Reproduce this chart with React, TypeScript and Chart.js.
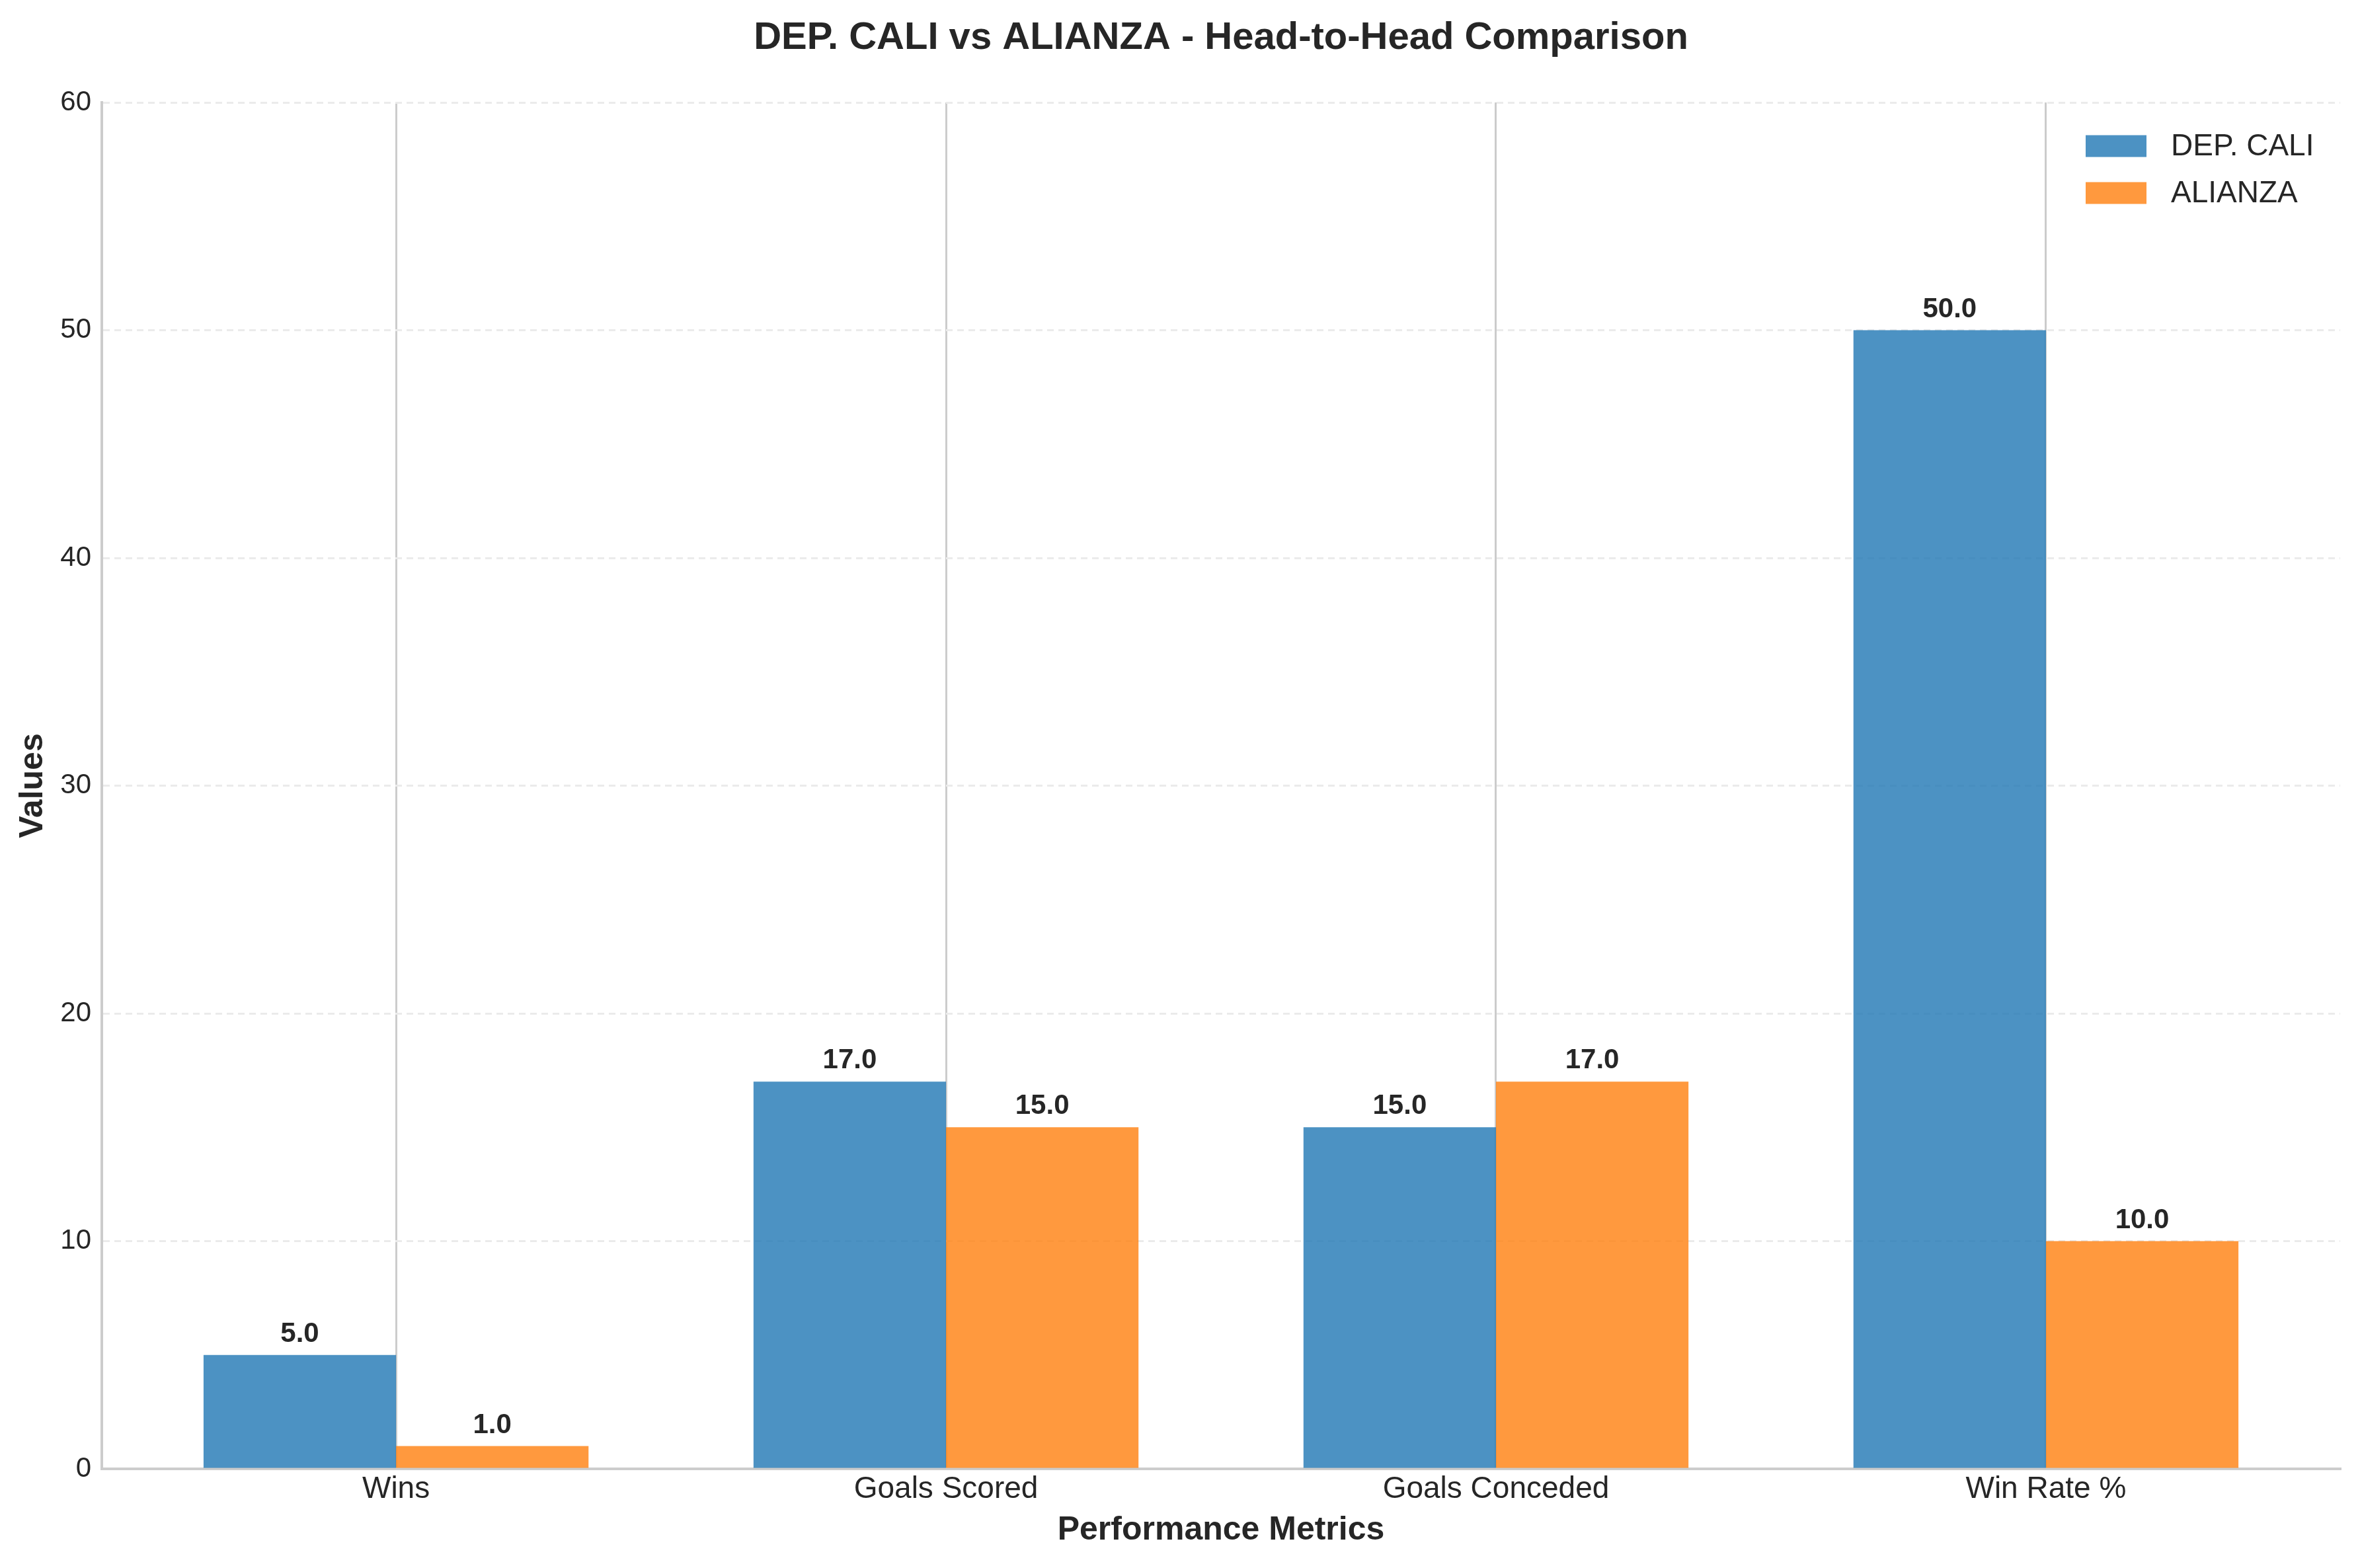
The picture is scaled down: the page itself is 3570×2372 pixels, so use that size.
import React, { useEffect, useRef } from 'react';
import { Chart, registerables } from 'chart.js';

Chart.register(...registerables);

// ---- Data ----
const categories = ['Wins', 'Goals Scored', 'Goals Conceded', 'Win Rate %'];
const seriesNames = ['DEP. CALI', 'ALIANZA'];
const depCaliValues = [5, 17, 15, 50];
const alianzaValues = [1, 15, 17, 10];
const yTickValues = [0, 10, 20, 30, 40, 50, 60];
const titleText = 'DEP. CALI vs ALIANZA - Head-to-Head Comparison';
const xAxisTitle = 'Performance Metrics';
const yAxisTitle = 'Values';

// ---- Styles ----
const FONT = '"Liberation Sans", Arial, Helvetica, sans-serif';
const TEXT = '#262626';
const COLORS = ['rgba(31,119,180,0.8)', 'rgba(255,127,14,0.8)'];
const W = 3570;
const H = 2372;

const titlePlugin = {
  id: 'customTitle',
  afterDraw(chart: any) {
    const { ctx, chartArea } = chart;
    ctx.save();
    ctx.font = `bold 58px ${FONT}`;
    ctx.fillStyle = TEXT;
    ctx.textAlign = 'center';
    ctx.textBaseline = 'alphabetic';
    ctx.fillText(titleText, (chartArea.left + chartArea.right) / 2, 74);
    ctx.restore();
  },
};

const valueLabelPlugin = {
  id: 'valueLabels',
  afterDatasetsDraw(chart: any) {
    const { ctx } = chart;
    ctx.save();
    ctx.font = `bold 42px ${FONT}`;
    ctx.fillStyle = TEXT;
    ctx.textAlign = 'center';
    ctx.textBaseline = 'alphabetic';
    chart.data.datasets.forEach((ds: any, i: number) => {
      const meta = chart.getDatasetMeta(i);
      meta.data.forEach((el: any, j: number) => {
        const v = ds.data[j].y as number;
        ctx.fillText(v.toFixed(1), el.x, el.y - 20);
      });
    });
    ctx.restore();
  },
};

const legendPlugin = {
  id: 'customLegend',
  afterDraw(chart: any) {
    const { ctx, chartArea } = chart;
    const boxX = chartArea.right - 385;
    const boxW = 92;
    const boxH = 33;
    const centers = [221, 292];
    ctx.save();
    ctx.font = `46px ${FONT}`;
    ctx.textAlign = 'left';
    ctx.textBaseline = 'middle';
    chart.data.datasets.forEach((ds: any, i: number) => {
      const cy = centers[i];
      ctx.fillStyle = ds.backgroundColor;
      ctx.fillRect(boxX, cy - boxH / 2, boxW, boxH);
      ctx.fillStyle = TEXT;
      ctx.fillText(ds.label, boxX + boxW + 37, cy + 1);
    });
    ctx.restore();
  },
};

export default function App() {
  const canvasRef = useRef<HTMLCanvasElement | null>(null);

  useEffect(() => {
    const canvas = canvasRef.current;
    if (!canvas) return;
    const seriesValues = [depCaliValues, alianzaValues];
    const chart = new Chart(canvas, {
      type: 'bar',
      data: {
        datasets: seriesNames.map((name, i) => ({
          label: name,
          data: categories.map((_, j) => ({ x: j, y: seriesValues[i][j] })),
          backgroundColor: COLORS[i],
          borderWidth: 0,
          categoryPercentage: 0.7,
          barPercentage: 1.0,
        })),
      },
      options: {
        responsive: false,
        maintainAspectRatio: false,
        devicePixelRatio: 1,
        animation: false,
        layout: { padding: { top: 155, right: 30, left: 0, bottom: 0 } },
        plugins: {
          legend: { display: false },
          title: { display: false },
          tooltip: { enabled: false },
        },
        scales: {
          x: {
            type: 'linear',
            min: -0.535,
            max: 3.535,
            offset: false,
            afterBuildTicks(scale: any) {
              scale.ticks = categories.map((_, i) => ({ value: i }));
            },
            afterFit(scale: any) {
              scale.height = 150;
            },
            ticks: {
              autoSkip: false,
              maxRotation: 0,
              padding: 4,
              color: TEXT,
              font: { family: FONT, size: 46 },
              callback: (value: any) => categories[Math.round(Number(value))] ?? '',
            },
            grid: {
              display: true,
              offset: false,
              color: '#cccccc',
              lineWidth: 3,
              drawTicks: false,
              drawOnChartArea: true,
            },
            border: { display: true, color: '#cccccc', width: 4 },
            title: {
              display: true,
              text: xAxisTitle,
              color: TEXT,
              font: { family: FONT, size: 50, weight: 'bold' },
              padding: { top: 0, bottom: 27 },
            },
          },
          y: {
            type: 'linear',
            min: 0,
            max: 60,
            afterBuildTicks(scale: any) {
              scale.ticks = yTickValues.map((v) => ({ value: v }));
            },
            afterFit(scale: any) {
              scale.width = 154;
            },
            ticks: {
              padding: 16,
              color: TEXT,
              font: { family: FONT, size: 42 },
            },
            grid: {
              display: true,
              offset: false,
              color: '#ebebeb',
              lineWidth: 3,
              drawTicks: false,
            },
            border: { display: true, color: '#cccccc', width: 4, dash: [10, 7] },
            title: {
              display: true,
              text: yAxisTitle,
              color: TEXT,
              font: { family: FONT, size: 50, weight: 'bold' },
              padding: { top: 20, bottom: 0 },
            },
          },
        },
      },
      plugins: [titlePlugin, valueLabelPlugin, legendPlugin],
    } as any);
    return () => chart.destroy();
  }, []);

  return (
    <div style={{ position: 'absolute', left: 0, top: 0, width: W, height: H, background: '#ffffff' }}>
      <canvas ref={canvasRef} width={W} height={H} style={{ display: 'block', width: W, height: H }} />
    </div>
  );
}
